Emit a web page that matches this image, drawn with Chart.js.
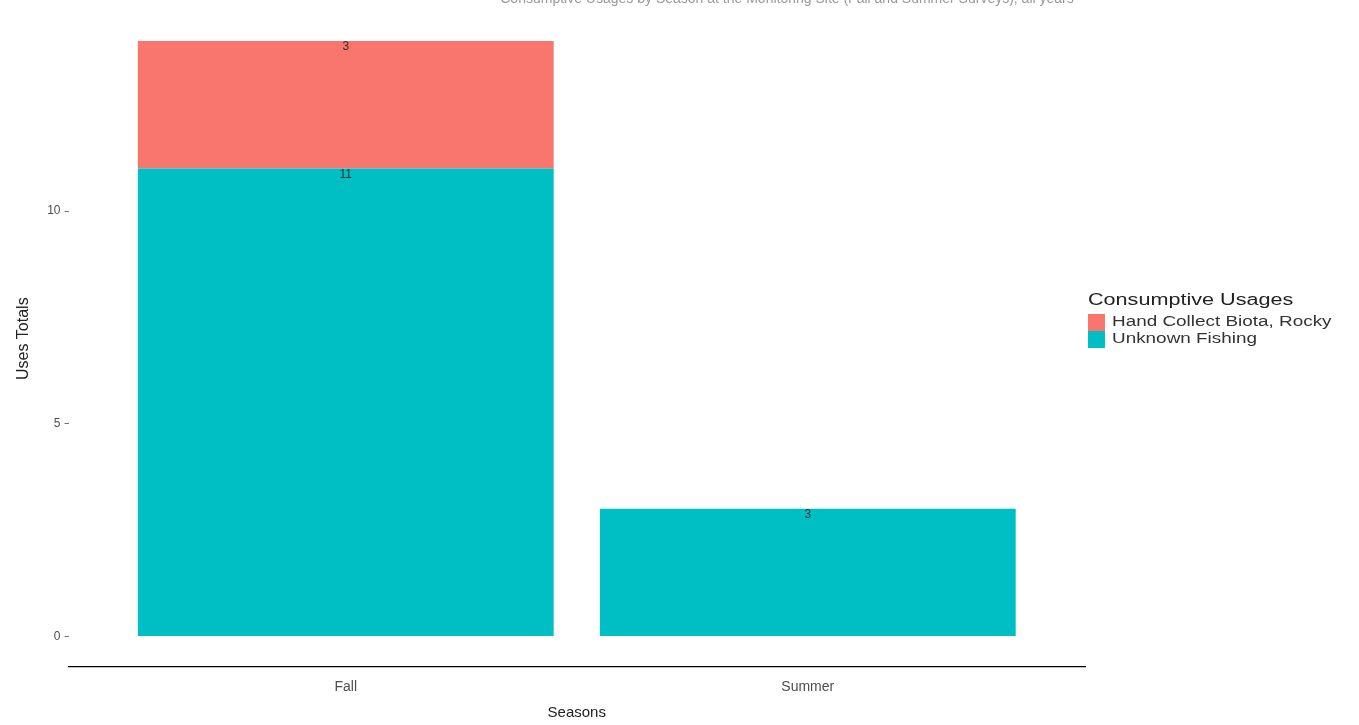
<!DOCTYPE html>
<html lang="en">
<head>
  <meta charset="UTF-8">
  <title>Consumptive Usages by Season</title>
  <script src="https://cdn.jsdelivr.net/npm/chart.js"></script>
  <style>
    body {
      margin: 0;
      padding: 0;
      background: #fff;
    }
    #box {
      width: 1359px;
      height: 725px;
    }
  </style>
</head>
<body>
<div id="box">
  <canvas id="usesChart" width="1359" height="725"></canvas>
</div>

<script>
  // data
  const seasons = ["Fall", "Summer"];
  const usageTypes = ["Hand Collect Biota, Rocky", "Unknown Fishing"];
  const handCollect = [3, 0];
  const unknownFishing = [11, 3];
  const yTicks = [0, 5, 10];
  const titleText = "Consumptive Usages by Season at the Monitoring Site (Fall and Summer Surveys), all years";

  const red = "#F8766D";
  const teal = "#00BFC4";
  const textGrey = "#4d4d4d";
  const font = "'Liberation Sans', Arial, sans-serif";

  // top of each stacked segment gets its value written just under it
  const segmentLabels = {
    id: "segmentLabels",
    afterDatasetsDraw(chart) {
      const ctx = chart.ctx;
      ctx.save();
      ctx.font = "12px " + font;
      ctx.fillStyle = "#333";
      ctx.textAlign = "center";
      ctx.textBaseline = "middle";
      chart.data.datasets.forEach((ds, i) => {
        const meta = chart.getDatasetMeta(i);
        meta.data.forEach((bar, j) => {
          const v = ds.data[j].y;
          if (!v) return;
          ctx.fillText(String(v), bar.x, bar.y + 6);
        });
      });
      ctx.restore();
    }
  };

  // ggplot-style legend on the right (same order as usageTypes);
  // the original text looks stretched sideways, so scale x a bit
  const sideLegend = {
    id: "sideLegend",
    afterDraw(chart) {
      const ctx = chart.ctx;
      const x0 = chart.chartArea.right + 3;
      const sx = 1.35;
      let y = 301;
      ctx.save();
      ctx.textAlign = "left";
      ctx.textBaseline = "middle";

      ctx.save();
      ctx.translate(x0, 0);
      ctx.scale(sx, 1);
      ctx.font = "16px " + font;
      ctx.fillStyle = "#222";
      ctx.fillText("Consumptive Usages", 0, y);
      ctx.restore();

      y += 13;
      usageTypes.forEach(name => {
        const ds = chart.data.datasets.find(d => d.label === name);
        ctx.fillStyle = ds.backgroundColor;
        ctx.fillRect(x0, y, 17, 17);
        ctx.save();
        ctx.translate(x0 + 24, 0);
        ctx.scale(sx, 1);
        ctx.font = "14px " + font;
        ctx.fillStyle = "#333";
        ctx.fillText(name, 0, y + 8.5);
        ctx.restore();
        y += 17;
      });

      // title, mostly cut off by the top edge in the original
      ctx.font = "14px " + font;
      ctx.fillStyle = "#999";
      ctx.textAlign = "center";
      ctx.fillText(titleText, 787, -1);
      ctx.restore();
    }
  };

  const ctx = document.getElementById("usesChart").getContext("2d");
  new Chart(ctx, {
    type: "bar",
    data: {
      datasets: [
        {
          label: usageTypes[1],
          data: seasons.map((s, i) => ({ x: i + 1, y: unknownFishing[i] })),
          backgroundColor: teal,
          barPercentage: 0.9,
          categoryPercentage: 1
        },
        {
          label: usageTypes[0],
          data: seasons.map((s, i) => ({ x: i + 1, y: handCollect[i] })),
          backgroundColor: red,
          barPercentage: 0.9,
          categoryPercentage: 1
        }
      ]
    },
    options: {
      responsive: false,
      animation: false,
      layout: {
        padding: { top: 9, right: 274, bottom: 3, left: 14 }
      },
      plugins: {
        legend: { display: false },
        tooltip: { enabled: false },
        title: { display: false }
      },
      scales: {
        x: {
          type: "linear",
          stacked: true,
          offset: false,
          min: 0.4,
          max: 2.6,
          afterBuildTicks: axis => {
            axis.ticks = seasons.map((s, i) => ({ value: i + 1 }));
          },
          ticks: {
            callback: v => seasons[v - 1] || "",
            color: textGrey,
            font: { family: font, size: 14 },
            padding: 5
          },
          grid: { display: false },
          border: { display: true, color: "#000", width: 1.3 },
          title: {
            display: true,
            text: "Seasons",
            color: "#222",
            font: { family: font, size: 15 },
            padding: { top: 3, bottom: 0 }
          }
        },
        y: {
          stacked: true,
          min: -0.7,
          max: 14.7,
          afterBuildTicks: axis => {
            axis.ticks = yTicks.map(v => ({ value: v }));
          },
          ticks: {
            color: textGrey,
            font: { family: font, size: 12 },
            padding: 4
          },
          grid: {
            drawOnChartArea: false,
            drawTicks: true,
            tickLength: 4,
            color: "#777"
          },
          border: { display: false },
          title: {
            display: true,
            text: "Uses Totals",
            color: "#222",
            font: { family: font, size: 16 },
            padding: { top: 0, bottom: 10 }
          }
        }
      }
    },
    plugins: [segmentLabels, sideLegend]
  });
</script>
</body>
</html>
